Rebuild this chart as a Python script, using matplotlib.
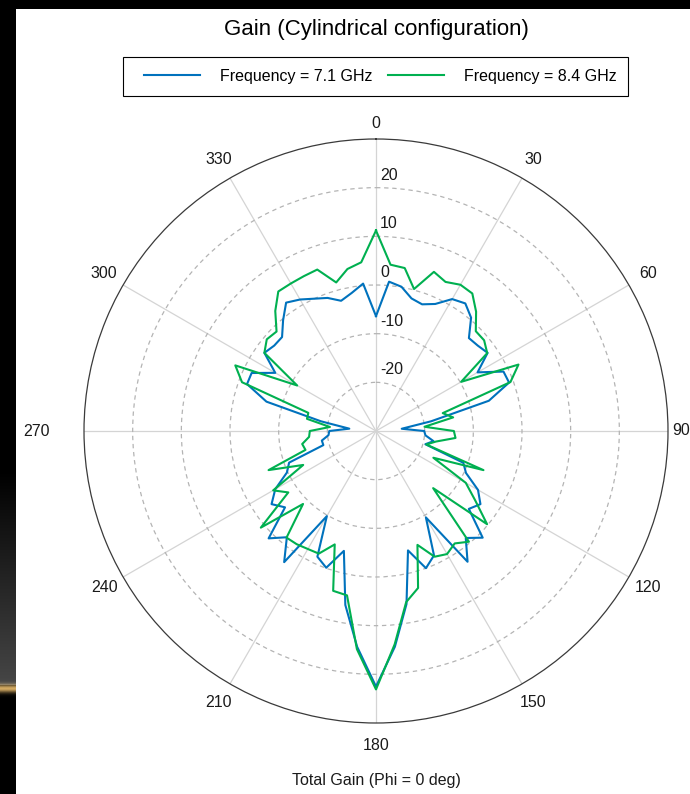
import numpy as np
import matplotlib.pyplot as plt
from matplotlib.patches import Rectangle

plt.rcParams['font.family'] = ['Liberation Sans', 'DejaVu Sans']

# Azimuth samples (deg, clockwise from top) and total gain (dB)
angles_deg = np.arange(0, 360, 5)

gain_7p1 = [
    -6.4, 0.8, 0.1, -1.8, -2.3, -1.2, 1.3, 2.0, 0.4, -3.0, -2.7, -2.0,
    -5.9, -1.1, -0.9, -6.0, -18.5, -24.7, -20.1, -19.8, -18.0, -19.5, -10.9, -9.6,
    -5.8, -3.8, -5.1, 1.0, -1.3, 2.8, -9.5, -1.8, 0.0, -4.6, 6.1, 14.5,
    22.5, 14.5, 6.3, -4.5, -0.1, -1.5, -9.8, 2.9, -1.5, 1.2, -5.6, -3.8,
    -6.1, -9.8, -11.0, -18.8, -18.7, -20.2, -20.4, -24.5, -18.5, -6.7, -1.8, -1.8,
    -6.1, -2.0, -2.7, -2.7, -0.3, 2.2, 1.2, 0.0, -0.9, -2.3, -1.2, 0.4,
]

gain_8p4 = [
    11.2, 4.3, 4.0, 0.2, 4.8, 3.8, 4.7, 4.5, 2.0, -1.0, -1.0, -2.1,
    -9.8, 2.3, -0.6, -15.8, -13.9, -20.0, -14.0, -13.6, -17.5, -19.3, -6.5, -17.0,
    -8.7, -5.1, -0.2, -13.4, -0.3, -1.8, -0.8, -1.5, -5.1, 3.4, 5.7, 14.0,
    23.1, 15.0, 4.3, 4.0, -5.2, -2.2, -2.0, -1.6, -1.4, -8.8, 0.9, -8.0,
    -5.6, -13.5, -6.5, -15.0, -14.6, -16.2, -16.4, -20.5, -15.6, -15.6, -0.7, 1.9,
    -11.3, -2.0, -0.7, -1.1, 2.2, 5.0, 5.0, 5.1, 5.3, 1.6, 3.8, 4.8,
]

series_labels = ['Frequency = 7.1 GHz', 'Frequency = 8.4 GHz']
series_colors = ['#0072BD', '#00B050']

theta_ticks = np.arange(0, 360, 30)
r_ticks = [-20, -10, 0, 10, 20]
r_min, r_max = -30, 30

W, H = 690, 794
fig = plt.figure(figsize=(W / 100, H / 100), dpi=100, facecolor='white')

# dark slide border: top band and left strip with a warm glow
strip = np.zeros((H, 1, 3))
rows = np.arange(H)
gray = np.clip((rows - 470) / (680 - 470), 0, 1) * 0.27
gray[rows > 684] = 0.0
for c in range(3):
    strip[:, 0, c] = gray
glow = np.exp(-((rows - 688) / 4.0) ** 2)
strip[:, 0, 0] += glow * 0.82
strip[:, 0, 1] += glow * 0.66
strip[:, 0, 2] += glow * 0.38
strip = np.clip(strip, 0, 1)
ax_strip = fig.add_axes([0, 0, 16 / W, 1])
ax_strip.imshow(strip, aspect='auto', interpolation='bilinear')
ax_strip.set_axis_off()
fig.patches.append(Rectangle((0, 1 - 9 / H), 1, 9 / H, transform=fig.transFigure,
                             facecolor='black', edgecolor='none', zorder=5))

# polar axes: centre (376, 431) px, radius 292 px
cx, cy, R = 376, 431, 292
ax = fig.add_axes([(cx - R) / W, (H - cy - R) / H, 2 * R / W, 2 * R / H],
                  projection='polar')
ax.set_theta_zero_location('N')
ax.set_theta_direction(-1)
ax.set_ylim(r_min, r_max)
ax.set_facecolor('white')

ax.set_thetagrids(theta_ticks, labels=[''] * len(theta_ticks))
ax.set_rgrids(r_ticks, labels=[''] * len(r_ticks))
ax.xaxis.grid(True, color='#d4d4d4', linestyle='-', linewidth=0.9)
ax.yaxis.grid(True, color='#b4b4b4', linestyle=(0, (3.5, 3.0)), linewidth=0.9)
ax.spines['polar'].set_color('#3a3a3a')
ax.spines['polar'].set_linewidth(0.9)
ax.tick_params(length=0)

lines = []
for gains, color, label in zip([gain_7p1, gain_8p4], series_colors, series_labels):
    th = np.deg2rad(np.append(angles_deg, angles_deg[0]))
    rr = np.append(gains, gains[0])
    ln, = ax.plot(th, rr, color=color, linewidth=1.5, label=label, zorder=3)
    lines.append(ln)

# angle labels placed around the rim
label_dist = {0: 307, 90: 305, 270: 340}
for t in theta_ticks:
    d = label_dist.get(int(t), 314) - R
    a = np.deg2rad(t)
    ax.annotate(f'{int(t)}', xy=(a, r_max), xytext=(d * np.sin(a), d * np.cos(a)),
                textcoords='offset pixels', ha='center', va='center',
                fontsize=11.5, color='#1a1a1a', annotation_clip=False)

# radial labels just above each ring on the 0-degree spoke
for r in r_ticks:
    ax.annotate(f'{r}', xy=(0, r), xytext=(4, 5), textcoords='offset pixels',
                ha='left', va='bottom', fontsize=11.5, color='#1a1a1a')

fig.text(cx / W, 1 - 29 / H, 'Gain (Cylindrical configuration)', ha='center',
         va='center', fontsize=16, color='black')
fig.text(cx / W, 1 - 780 / H, 'Total Gain (Phi = 0 deg)', ha='center',
         va='center', fontsize=11.5, color='#1a1a1a')

# legend box with a wider left margin, entries laid out inside it
fig.patches.append(Rectangle((123 / W, 1 - 96 / H), 505 / W, 39 / H,
                             transform=fig.transFigure, facecolor='white',
                             edgecolor='black', linewidth=0.8, zorder=1))
leg = fig.legend(lines, series_labels, loc='center',
                 bbox_to_anchor=(380.5 / W, 1 - 76.5 / H), ncol=2, frameon=False,
                 handlelength=3.5, handletextpad=1.25, columnspacing=1.0,
                 borderpad=0.0, fontsize=11.5)
leg.set_zorder(2)

fig.savefig('out.png', dpi=100, facecolor=fig.get_facecolor())
